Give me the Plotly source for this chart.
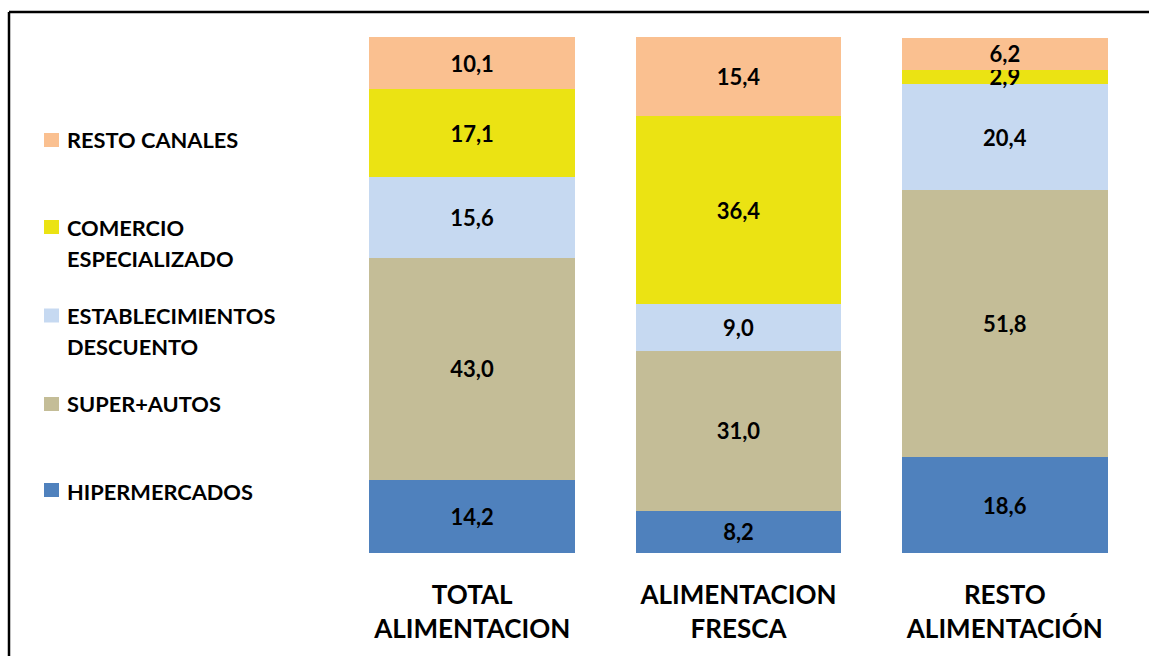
import plotly.graph_objects as go

categories = ["TOTAL<br>ALIMENTACION", "ALIMENTACION<br>FRESCA", "RESTO<br>ALIMENTACIÓN"]
series_names = ["HIPERMERCADOS", "SUPER+AUTOS", "ESTABLECIMIENTOS DESCUENTO",
                "COMERCIO ESPECIALIZADO", "RESTO CANALES"]
hipermercados = [14.2, 8.2, 18.6]
super_autos = [43.0, 31.0, 51.8]
establecimientos = [15.6, 9.0, 20.4]
comercio = [17.1, 36.4, 2.9]
resto = [10.1, 15.4, 6.2]
colors = ["#4F81BD", "#C4BD97", "#C6D9F1", "#EBE313", "#FAC090"]
legend_lines = [["HIPERMERCADOS"], ["SUPER+AUTOS"], ["ESTABLECIMIENTOS", "DESCUENTO"],
                ["COMERCIO", "ESPECIALIZADO"], ["RESTO CANALES"]]

W, H = 1149, 656
ML, MR, MT, MB = 339, 11, 37, 103
PW, PH = W - ML - MR, H - MT - MB

def px(x):
    return (x - ML) / PW

def py(y):
    return (H - MB - y) / PH

FONT = "Lato"
fig = go.Figure()
values = [hipermercados, super_autos, establecimientos, comercio, resto]
for name, vals, col in zip(series_names, values, colors):
    fig.add_trace(go.Bar(
        x=categories, y=vals, name=name, marker=dict(color=col, line=dict(width=0)),
        texttemplate="<b>%{y:.1f}</b>", textposition="inside", insidetextanchor="middle",
        textfont=dict(family=FONT, size=22, color="black"), showlegend=False,
        cliponaxis=False,
    ))

# legend drawn manually (square + label lines)
legend_sq_y = [490, 404, 315.5, 227, 140]
legend_text_y = [[491], [404], [315, 346], [227, 258], [139]]
shapes = []
annotations = []
for col, sy, lines, tys in zip(colors, legend_sq_y, legend_lines, legend_text_y):
    shapes.append(dict(type="rect", xref="paper", yref="paper",
                       x0=px(44), x1=px(59), y0=py(sy + 7), y1=py(sy - 7),
                       fillcolor=col, line=dict(width=0)))
    for ln, ty in zip(lines, tys):
        annotations.append(dict(text="<b>" + ln + "</b>", xref="paper", yref="paper",
                                x=px(65), y=py(ty), xanchor="left", yanchor="middle",
                                showarrow=False, font=dict(family=FONT, size=21.8, color="black")))

# outer border (top and left edges visible)
shapes.append(dict(type="line", xref="paper", yref="paper",
                   x0=px(9), x1=px(1200), y0=py(12), y1=py(12),
                   line=dict(color="black", width=2.5), layer="above"))
shapes.append(dict(type="line", xref="paper", yref="paper",
                   x0=px(9), x1=px(9), y0=py(12), y1=py(700),
                   line=dict(color="black", width=2.5), layer="above"))

fig.update_layout(
    barmode="stack", bargap=0.227, width=W, height=H,
    margin=dict(l=ML, r=MR, t=MT, b=MB),
    paper_bgcolor="white", plot_bgcolor="white",
    separators=",.",
    uniformtext=dict(minsize=22, mode="show"),
    xaxis=dict(range=[-0.5, 2.5], showgrid=False, zeroline=False, showline=False,
               ticks="", ticklabelstandoff=24,
               tickfont=dict(family=FONT, size=26, color="black", weight="bold")),
    yaxis=dict(range=[0, 100], visible=False),
    shapes=shapes, annotations=annotations,
)
fig.write_html("out.html")
